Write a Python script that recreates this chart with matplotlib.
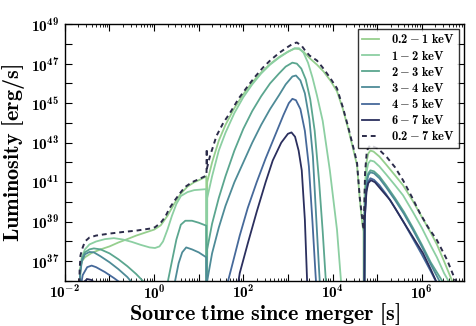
import numpy as np
import matplotlib
matplotlib.use("Agg")
import matplotlib.pyplot as plt
from matplotlib.ticker import FixedLocator, LogLocator, FuncFormatter, NullFormatter

plt.rcParams['mathtext.fontset'] = 'custom'
plt.rcParams['mathtext.rm'] = 'cmb10'
plt.rcParams['mathtext.bf'] = 'cmb10'
plt.rcParams['mathtext.it'] = 'cmb10'
plt.rcParams['mathtext.fallback'] = 'cm'
plt.rcParams['font.family'] = ['DejaVu Serif']

# ---- data: log10(time [s]) and log10(luminosity [erg/s]) ----
labels = [r'$0.2\:{-}\:1\ \mathrm{keV}$', r'$1\:{-}\:2\ \mathrm{keV}$', r'$2\:{-}\:3\ \mathrm{keV}$',
          r'$3\:{-}\:4\ \mathrm{keV}$', r'$4\:{-}\:5\ \mathrm{keV}$', r'$6\:{-}\:7\ \mathrm{keV}$']
total_label = r'$0.2\:{-}\:7\ \mathrm{keV}$'

band_02_1_lt = [-1.68, -1.66, -1.62, -1.55, -1.4, -1.2, -1.0, -0.8, -0.6, -0.4, -0.2, 0.0, 0.15, 0.3, 0.45,
                0.6, 0.75, 0.9, 1.05, 1.17, 1.175, 1.185, 1.19, 1.3, 1.45, 1.6, 1.8, 2.0, 2.2, 2.4, 2.6, 2.8,
                3.0, 3.15, 3.25, 3.35, 3.5, 3.65, 3.8, 3.95, 4.1, 4.23, 4.35, 4.45, 4.55, 4.61, 4.67, 4.695,
                4.70, 4.705, 4.72, 4.76, 4.80, 4.85, 4.92, 5.05, 5.2, 5.4, 5.58, 5.8, 6.0, 6.2, 6.34, 6.5,
                6.7, 6.8]
band_02_1_ll = [33, 36.6, 37.0, 37.2, 37.42, 37.6, 37.75, 37.95, 38.12, 38.3, 38.45, 38.6, 38.82, 39.3, 39.9,
                40.42, 40.78, 41.0, 41.15, 41.3, 30, 30, 41.0, 42.0, 43.1, 43.9, 44.75, 45.45, 46.05, 46.55,
                46.98, 47.33, 47.6, 47.76, 47.74, 47.6, 47.25, 46.95, 46.6, 46.15, 45.6, 44.72, 43.72, 42.8,
                41.85, 40.15, 38.85, 38.5, 30, 30, 40.5, 42.0, 42.45, 42.6, 42.55, 42.3, 41.9, 41.35, 40.85,
                40.05, 39.25, 38.45, 37.85, 37.0, 35.9, 35.0]

band_1_2_lt = [-1.68, -1.65, -1.62, -1.55, -1.45, -1.3, -1.1, -0.9, -0.7, -0.5, -0.3, -0.1, 0.02, 0.12,
               0.2, 0.3, 0.4, 0.5, 0.6, 0.75, 0.9, 1.17, 1.175, 1.185, 1.19, 1.3, 1.45, 1.6, 1.8, 2.0, 2.2,
               2.4, 2.6, 2.8, 3.0, 3.15, 3.25, 3.35, 3.45, 3.55, 3.65, 3.78, 3.94, 4.1, 4.19, 4.25,
               4.70, 4.705, 4.72, 4.76, 4.80, 4.85, 4.93, 5.05, 5.2, 5.4, 5.58, 5.8, 6.0, 6.2, 6.34, 6.5,
               6.6, 6.7]
band_1_2_ll = [33, 36.6, 37.2, 37.6, 37.85, 38.0, 38.12, 38.17, 38.1, 37.98, 37.83, 37.7, 37.67, 37.75,
               38.0, 38.6, 39.3, 39.9, 40.3, 40.5, 40.6, 40.65, 30, 30, 40.2, 41.3, 42.6, 43.5, 44.5, 45.3,
               45.95, 46.5, 46.95, 47.3, 47.6, 47.78, 47.78, 47.55, 47.05, 46.3, 45.4, 44.1, 41.6, 38.6,
               36.0, 34.0, 30, 30, 40.0, 41.5, 41.95, 42.1, 42.05, 41.8, 41.4, 40.85, 40.34, 39.5, 38.7,
               37.8, 37.2, 36.4, 36.0, 35.3]

band_2_3_lt = [-1.68, -1.66, -1.62, -1.55, -1.45, -1.35, -1.2, -1.0, -0.8, -0.6, -0.4, -0.25, -0.15,
               0.25, 0.31, 0.4, 0.5, 0.6, 0.7, 0.85, 1.0, 1.17, 1.175, 1.185, 1.19, 1.3, 1.45, 1.6, 1.8,
               2.0, 2.2, 2.4, 2.6, 2.8, 2.95, 3.1, 3.2, 3.3, 3.4, 3.5, 3.6, 3.7, 3.78, 3.85, 3.9,
               4.70, 4.705, 4.72, 4.76, 4.80, 4.85, 4.93, 5.05, 5.2, 5.4, 5.6, 5.8, 6.0, 6.2, 6.46, 6.55]
band_2_3_ll = [33, 36.4, 37.1, 37.45, 37.6, 37.65, 37.6, 37.4, 37.1, 36.75, 36.35, 36.0, 35.5,
               35.5, 36.0, 37.0, 38.1, 38.85, 39.05, 39.05, 38.95, 38.8, 30, 30, 37.6, 38.9, 40.2, 41.3,
               42.6, 43.7, 44.6, 45.35, 46.0, 46.5, 46.85, 47.05, 47.0, 46.75, 46.2, 45.2, 43.6, 41.0,
               38.5, 36.0, 34.0, 30, 30, 39.6, 41.0, 41.45, 41.6, 41.55, 41.3, 40.85, 40.2, 39.5, 38.7,
               37.85, 36.95, 36.0, 35.4]

band_3_4_lt = [-1.68, -1.66, -1.62, -1.55, -1.45, -1.35, -1.2, -1.0, -0.8, -0.6, -0.45, -0.35,
               0.4, 0.47, 0.55, 0.63, 0.72, 0.85, 1.0, 1.17, 1.175, 1.185, 1.19, 1.3, 1.45, 1.6, 1.8,
               2.0, 2.2, 2.4, 2.6, 2.8, 2.95, 3.1, 3.18, 3.28, 3.38, 3.48, 3.56, 3.62, 3.7, 3.74,
               4.70, 4.705, 4.72, 4.76, 4.80, 4.85, 4.93, 5.05, 5.2, 5.4, 5.6, 5.8, 6.0, 6.2, 6.42, 6.5]
band_3_4_ll = [33, 36.3, 37.0, 37.35, 37.47, 37.45, 37.25, 36.95, 36.6, 36.2, 35.8, 35.3,
               35.3, 36.0, 36.9, 37.45, 37.7, 37.6, 37.45, 37.2, 30, 30, 36.0, 37.4, 38.7, 39.8, 41.0,
               42.0, 43.0, 43.9, 44.7, 45.4, 45.95, 46.35, 46.4, 46.15, 45.5, 44.2, 42.3, 39.8, 36.5,
               35.0, 30, 30, 39.4, 40.9, 41.35, 41.5, 41.45, 41.2, 40.75, 40.1, 39.4, 38.6, 37.75, 36.85,
               35.9, 35.4]

band_4_5_lt = [-1.68, -1.66, -1.6, -1.5, -1.4, -1.3, -1.1, -0.9, -0.75, -0.65,
               1.3, 1.6, 1.75, 1.92, 2.1, 2.3, 2.5, 2.7, 2.9, 3.02, 3.1, 3.18, 3.28, 3.38, 3.47, 3.55,
               3.62, 3.66, 4.70, 4.705, 4.72, 4.76, 4.80, 4.85, 4.93, 5.05, 5.2, 5.4, 5.6, 5.8, 6.0,
               6.2, 6.36, 6.45]
band_4_5_ll = [33, 35.5, 36.3, 36.7, 36.78, 36.7, 36.45, 36.15, 35.9, 35.5,
               33, 35.5, 36.8, 38.3, 39.7, 41.0, 42.2, 43.3, 44.4, 45.0, 45.22, 45.15, 44.7, 43.6, 41.8,
               39.0, 36.3, 35.0, 30, 30, 39.1, 40.6, 41.05, 41.2, 41.12, 40.85, 40.4, 39.7, 38.95, 38.15,
               37.35, 36.5, 35.8, 35.3]

band_6_7_lt = [-1.64, -1.6, -1.5, -1.4, -1.3, -1.2,
               1.75, 1.92, 2.1, 2.3, 2.5, 2.66, 2.85, 3.0, 3.08, 3.16, 3.24, 3.31, 3.38, 3.43, 3.46,
               4.70, 4.705, 4.72, 4.76, 4.80, 4.86, 4.95, 5.1, 5.29, 5.48, 5.67, 5.85, 6.03, 6.2, 6.32, 6.4]
band_6_7_ll = [33, 35.9, 36.1, 36.05, 35.8, 35.4,
               34.0, 36.4, 37.9, 39.5, 41.0, 42.1, 43.0, 43.45, 43.52, 43.3, 42.6, 41.6, 39.1, 36.0, 34.0,
               30, 30, 39.0, 40.5, 40.95, 41.1, 41.0, 40.6, 40.1, 39.4, 38.7, 38.05, 37.4, 36.6, 36.0, 35.5]

total_lt = [-1.69, -1.67, -1.65, -1.6, -1.55, -1.45, -1.3, -1.0, -0.7, -0.4, -0.1, 0.02, 0.15, 0.25,
            0.35, 0.47, 0.6, 0.69, 0.85, 1.0, 1.14, 1.175, 1.18, 1.185, 1.25, 1.4, 1.55, 1.7, 1.9, 2.08,
            2.25, 2.44, 2.62, 2.82, 3.0, 3.12, 3.2, 3.31, 3.4, 3.49, 3.65, 3.78, 3.94, 4.1, 4.23, 4.35,
            4.5, 4.55, 4.61, 4.68, 4.70, 4.73, 4.77, 4.84, 5.02, 5.22, 5.4, 5.58, 5.78, 5.96, 6.14,
            6.34, 6.57, 6.76, 6.85]
total_ll = [33, 36.5, 37.3, 37.7, 38.0, 38.2, 38.3, 38.4, 38.48, 38.55, 38.65, 38.72, 38.95, 39.25,
            39.7, 40.1, 40.5, 40.75, 41.0, 41.15, 41.3, 41.35, 42.7, 41.7, 42.3, 43.35, 44.0, 44.5, 45.25,
            45.8, 46.3, 46.8, 47.2, 47.57, 47.85, 48.02, 48.07, 47.9, 47.62, 47.4, 47.16, 46.8, 46.3,
            45.75, 44.8, 43.8, 42.46, 41.96, 40.24, 38.9, 38.58, 41.5, 42.6, 42.87, 42.7, 42.26, 41.76,
            41.1, 40.25, 39.43, 38.73, 38.07, 37.06, 36.0, 35.4]

band_t = [band_02_1_lt, band_1_2_lt, band_2_3_lt, band_3_4_lt, band_4_5_lt, band_6_7_lt]
band_l = [band_02_1_ll, band_1_2_ll, band_2_3_ll, band_3_4_ll, band_4_5_ll, band_6_7_ll]
colors = ['#96cf8e', '#8ccfa2', '#5ba68f', '#4e8b97', '#46699a', '#2b2f5e']
total_color = '#2c2c4a'

fig = plt.figure(figsize=(4.77, 3.26), dpi=100)
ax = fig.add_axes([0.136, 0.138, 0.837, 0.788])

for t, l, c, lab in zip(band_t, band_l, colors, labels):
    ax.plot(np.power(10.0, t), np.power(10.0, l), color=c, lw=1.3, label=lab)
ax.plot(np.power(10.0, total_lt), np.power(10.0, total_ll), color=total_color, lw=1.4,
        ls=(0, (2.5, 2)), label=total_label)

ax.set_xscale('log')
ax.set_yscale('log')
ax.set_xlim(1e-2, 10 ** 6.95)
ax.set_ylim(1e36, 1e49)

ax.xaxis.set_major_locator(FixedLocator([10.0 ** k for k in range(-2, 7)]))
ax.xaxis.set_minor_locator(LogLocator(base=10, subs=np.arange(2, 10), numticks=50))
ax.xaxis.set_minor_formatter(NullFormatter())
ax.xaxis.set_major_formatter(FuncFormatter(
    lambda v, p: r'$10^{%d}$' % round(np.log10(v)) if round(np.log10(v)) % 2 == 0 else ''))
ax.yaxis.set_major_locator(FixedLocator([10.0 ** k for k in range(36, 50)]))
ax.yaxis.set_minor_locator(FixedLocator([]))
ax.yaxis.set_major_formatter(FuncFormatter(
    lambda v, p: r'$10^{%d}$' % round(np.log10(v)) if round(np.log10(v)) % 2 == 1 else ''))

ax.tick_params(which='both', direction='in', top=True, right=True, labelsize=11)
ax.tick_params(axis='x', which='major', pad=2)
ax.tick_params(axis='y', which='major', pad=4)
ax.tick_params(which='major', length=5, width=0.8)
ax.tick_params(which='minor', length=2.5, width=0.6)
for s in ax.spines.values():
    s.set_linewidth(1.0)

ax.set_xlabel(r'$\mathrm{Source\ time\ since\ merger\ [s]}$', fontsize=16, labelpad=-1)
ax.set_ylabel(r'$\mathrm{Luminosity\ [erg/s]}$', fontsize=16, labelpad=3)

leg = ax.legend(loc='upper right', fontsize=9, frameon=True, fancybox=False, handlelength=1.3,
                borderpad=0.35, labelspacing=0.25, borderaxespad=0.4, handletextpad=1.0)
leg.get_frame().set_edgecolor('black')
leg.get_frame().set_linewidth(1.0)

fig.savefig('out.png', dpi=100)
